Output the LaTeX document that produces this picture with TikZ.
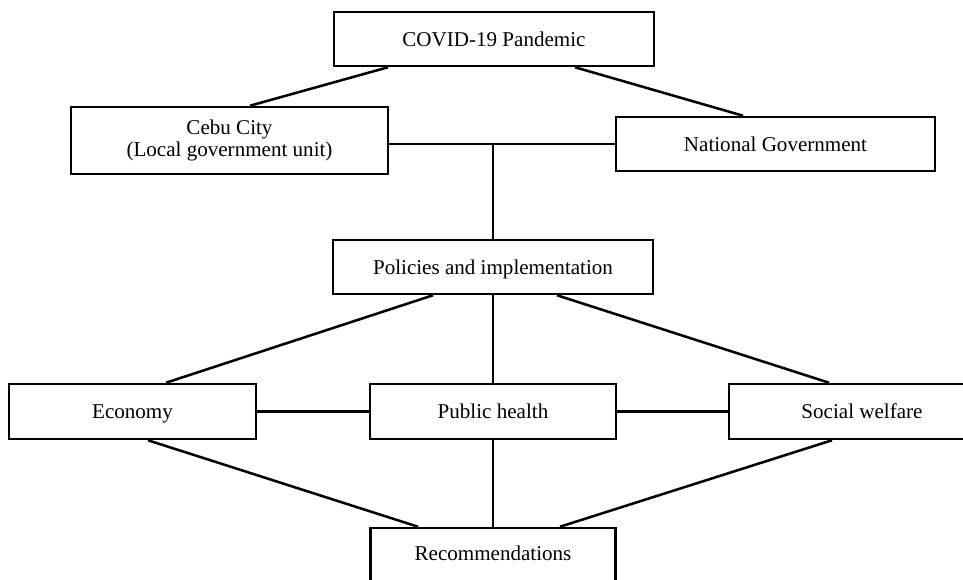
\documentclass[tikz,border=0pt]{standalone}
\usepackage{fontspec}
\setmainfont{Liberation Serif}
\usetikzlibrary{calc,positioning}
\tikzset{box/.style={draw,line width=1.9pt,align=center,inner sep=0pt,font=\fontsize{15.8}{15.8}\selectfont},
  onebox/.style={box,text depth=0pt},
  link/.style={line width=1.9pt}}

\begin{document}
\begin{tikzpicture}[x=0.75pt,y=-0.75pt]
\useasboundingbox (0,0) rectangle (963,580);
\node[onebox,minimum width=240pt,minimum height=40.5pt] (covid) at (494,39) {COVID-19 Pandemic};
\node[box,minimum width=237.75pt,minimum height=50.25pt] (cebu) at (229.5,140.5) {Cebu City\\(Local government unit)};
\node[onebox,minimum width=239.25pt,minimum height=40.5pt] (natl) at (775.5,144) {National Government};
\node[onebox,minimum width=240pt,minimum height=40.5pt] (policy) at (493,267) {Policies and implementation};
\node[onebox,minimum width=185.25pt,minimum height=41.25pt] (econ) at (132.5,411.5) {Economy};
\node[onebox,minimum width=184.5pt,minimum height=41.25pt] (health) at (493,411.5) {Public health};
\node[onebox,minimum width=199.5pt,minimum height=41.25pt] (social) at (862,411.5) {Social welfare};
\node[onebox,text depth=4pt,minimum width=183.75pt,minimum height=42pt] (recom) at (493,556) {Recommendations};
% top level
\draw[link] ($(covid.south)+(-106,0)$)--($(cebu.north)+(20.5,0)$);
\draw[link] ($(covid.south)+(81,0)$)--($(natl.north)+(-32.5,0)$);
\draw[link] (cebu.east |- natl.west)--(natl.west);
\draw[link] (policy.north)--(policy.north |- natl.west);
% policies
\draw[link] ($(policy.south)+(-60,0)$)--($(econ.north)+(33.5,0)$);
\draw[link] (policy.south)--(health.north);
\draw[link] ($(policy.south)+(64,0)$)--($(social.north)+(-33,0)$);
\draw[link] (econ.east)--(health.west);
\draw[link] (health.east)--(social.west);
% recommendations
\draw[link] ($(econ.south)+(15.5,0)$)--($(recom.north)+(-75,0)$);
\draw[link] (health.south)--(recom.north);
\draw[link] ($(social.south)+(-30,0)$)--($(recom.north)+(67,0)$);
\end{tikzpicture}
\end{document}
